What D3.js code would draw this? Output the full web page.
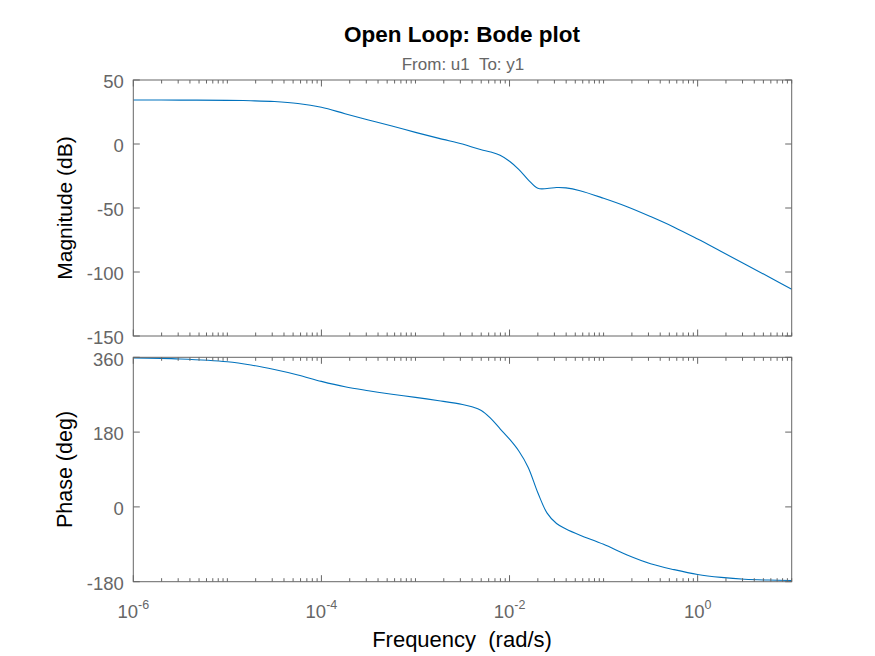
<!DOCTYPE html>
<html>
<head>
<meta charset="utf-8">
<script src="https://cdn.jsdelivr.net/npm/d3@7"></script>
<style>
  body { margin: 0; background: #fff; }
  svg { display: block; font-family: "Liberation Sans", Arial, sans-serif; }
</style>
</head>
<body>
<svg id="chart"></svg>
<script>
// frequency grid (rad/s)
const freq = [
  1e-6, 3.16e-6, 1e-5, 1.78e-5, 3.16e-5, 5.62e-5, 1e-4, 1.78e-4, 3.16e-4, 5.62e-4,
  1e-3, 1.78e-3, 3.16e-3, 3.98e-3, 5.01e-3, 6.31e-3, 7.94e-3, 1e-2, 1.26e-2, 1.58e-2,
  2e-2, 2.51e-2, 3.16e-2, 3.98e-2, 5.62e-2, 1e-1, 1.78e-1, 3.16e-1, 5.62e-1, 1,
  1.78, 3.16, 5.62, 10
];
const magnitude = [
  34.4, 34.3, 34.1, 33.8, 33.2, 31.7, 28.7, 23.7, 18.8, 14.1,
  9.1, 4.4, 0.0, -2.4, -4.5, -6.2, -8.8, -13.5, -20.0, -28.0,
  -34.6, -34.8, -34.0, -34.3, -36.5, -42.4, -49.0, -56.7, -65.0, -74.3,
  -84.0, -93.7, -103.5, -113.5
];
const phase = [
  358.5, 356, 349.3, 341.5, 330.5, 317.5, 302, 289, 279.5, 271,
  263.5, 255.5, 246.5, 241, 232, 213, 188, 163, 134, 95,
  34, -15, -40, -53, -68, -90, -116, -137, -151, -162.5,
  -169.5, -174, -176, -177
];
const magTicks = [50, 0, -50, -100, -150];
const phaseTicks = [360, 180, 0, -180];
const freqLabelTicks = [1e-6, 1e-4, 1e-2, 1];

const width = 875;
const height = 656;
const left = 133.3;
const right = 791.7;
const magBox = { top: 80, bottom: 336 };
const phaseBox = { top: 357.3, bottom: 581.7 };
const axisColor = "#666666";
const lineColor = "#0072BD";

const svg = d3.select("#chart").attr("width", width).attr("height", height);

const x = d3.scaleLog().domain([1e-6, 10]).range([left, right]);
const yMag = d3.scaleLinear().domain([-150, 50]).range([magBox.bottom, magBox.top]);
const yPhase = d3.scaleLinear().domain([-180, 360]).range([phaseBox.bottom, phaseBox.top]);

// labelled decades get long ticks, the rest are minor
const allTicks = x.ticks();
const majorSet = new Set(freqLabelTicks.map((d) => Math.round(Math.log10(d))));
const isMajor = (d) => {
  const l = Math.log10(d);
  return Math.abs(l - Math.round(l)) < 1e-9 && majorSet.has(Math.round(l));
};

const drawPanel = (box, y, ticks, values, showXLabels) => {
  const g = svg.append("g");

  const line = d3
    .line()
    .x((d, i) => x(freq[i]))
    .y((d) => y(d))
    .curve(d3.curveCatmullRom.alpha(0.5));

  g.append("path")
    .datum(values)
    .attr("d", line)
    .attr("fill", "none")
    .attr("stroke", lineColor)
    .attr("stroke-width", 1.1);

  // x ticks top + bottom
  const xt = allTicks.filter((d) => d >= 1e-6 && d <= 10);
  [box.top, box.bottom].forEach((yy) => {
    const dir = yy === box.top ? 1 : -1;
    g.selectAll(null)
      .data(xt)
      .enter()
      .append("line")
      .attr("x1", (d) => x(d))
      .attr("x2", (d) => x(d))
      .attr("y1", yy)
      .attr("y2", (d) => yy + dir * (isMajor(d) ? 6.5 : 3.5))
      .attr("stroke", axisColor)
      .attr("stroke-width", 1);
  });

  // y ticks left + right
  [left, right].forEach((xx) => {
    const dir = xx === left ? 1 : -1;
    g.selectAll(null)
      .data(ticks)
      .enter()
      .append("line")
      .attr("x1", xx)
      .attr("x2", xx + dir * 6.5)
      .attr("y1", (d) => y(d))
      .attr("y2", (d) => y(d))
      .attr("stroke", axisColor);
  });

  g.append("rect")
    .attr("x", left)
    .attr("y", box.top)
    .attr("width", right - left)
    .attr("height", box.bottom - box.top)
    .attr("fill", "none")
    .attr("stroke", axisColor)
    .attr("stroke-width", 1);

  g.selectAll(null)
    .data(ticks)
    .enter()
    .append("text")
    .attr("x", left - 9.5)
    .attr("y", (d) => y(d))
    .attr("dy", "0.45em")
    .attr("text-anchor", "end")
    .attr("font-size", "18.5px")
    .attr("fill", axisColor)
    .text((d) => d);

  if (showXLabels) {
    const lab = g
      .selectAll(null)
      .data(freqLabelTicks)
      .enter()
      .append("text")
      .attr("x", (d) => x(d))
      .attr("y", box.bottom + 36.5)
      .attr("text-anchor", "middle")
      .attr("font-size", "18.5px")
      .attr("fill", axisColor);
    lab.append("tspan").text("10");
    lab.append("tspan")
      .attr("dy", "-9")
      .attr("font-size", "12.5px")
      .text((d) => Math.round(Math.log10(d)));
  }
};

drawPanel(magBox, yMag, magTicks, magnitude, false);
drawPanel(phaseBox, yPhase, phaseTicks, phase, true);

// titles and axis labels
svg.append("text")
  .attr("x", 462)
  .attr("y", 41.5)
  .attr("text-anchor", "middle")
  .attr("font-size", "22.5px")
  .attr("font-weight", "bold")
  .attr("fill", "#000")
  .text("Open Loop: Bode plot");

svg.append("text")
  .attr("x", 463)
  .attr("y", 70)
  .attr("text-anchor", "middle")
  .attr("font-size", "17px")
  .attr("fill", axisColor)
  .attr("xml:space", "preserve")
  .text("From: u1  To: y1");

svg.append("text")
  .attr("transform", `translate(72,${(magBox.top + magBox.bottom) / 2}) rotate(-90)`)
  .attr("text-anchor", "middle")
  .attr("font-size", "21px")
  .attr("fill", "#000")
  .text("Magnitude (dB)");

svg.append("text")
  .attr("transform", `translate(72,${(phaseBox.top + phaseBox.bottom) / 2}) rotate(-90)`)
  .attr("text-anchor", "middle")
  .attr("font-size", "21.5px")
  .attr("fill", "#000")
  .text("Phase (deg)");

svg.append("text")
  .attr("x", 462)
  .attr("y", 647)
  .attr("text-anchor", "middle")
  .attr("font-size", "22px")
  .attr("fill", "#000")
  .attr("xml:space", "preserve")
  .text("Frequency  (rad/s)");
</script>
</body>
</html>
